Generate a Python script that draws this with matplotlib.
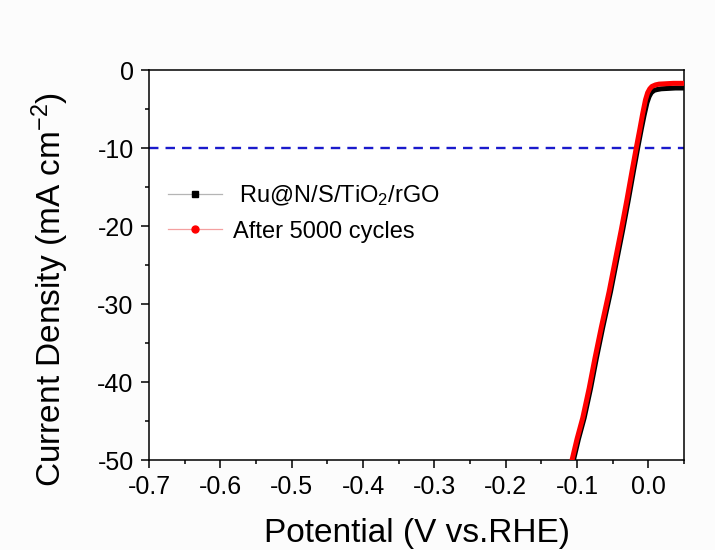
import numpy as np
import matplotlib
matplotlib.use('Agg')
import matplotlib.pyplot as plt
from matplotlib.lines import Line2D
from matplotlib.ticker import MultipleLocator, FormatStrFormatter

# LSV curves (potential in V vs RHE, current density in mA cm-2)
pot_initial = [-0.105, -0.098, -0.090, -0.081, -0.073, -0.064, -0.053, -0.044, -0.036, -0.028,
               -0.021, -0.015, -0.010, -0.006, -0.002, 0.001, 0.004, 0.008, 0.012, 0.018,
               0.028, 0.038, 0.050]
cur_initial = [-50.0, -47.3, -44.6, -40.8, -37.0, -33.0, -28.4, -24.2, -20.5, -16.6,
               -13.0, -10.0, -7.6, -5.8, -4.2, -3.4, -2.9, -2.6, -2.5, -2.4,
               -2.35, -2.3, -2.3]

pot_cycled = [-0.107, -0.100, -0.092, -0.083, -0.075, -0.066, -0.055, -0.046, -0.038, -0.030,
              -0.023, -0.017, -0.012, -0.008, -0.004, -0.001, 0.002, 0.005, 0.010, 0.015,
              0.025, 0.035, 0.050]
cur_cycled = [-50.0, -47.3, -44.6, -40.8, -37.0, -33.0, -28.4, -24.2, -20.5, -16.6,
              -13.0, -10.0, -7.6, -5.6, -3.8, -2.9, -2.4, -2.1, -1.9, -1.8,
              -1.75, -1.7, -1.7]

ref_current = -10
labels = [' Ru@N/S/TiO$_2$/rGO', 'After 5000 cycles']

plt.rcParams['font.family'] = ['Liberation Sans', 'DejaVu Sans']
plt.rcParams['axes.unicode_minus'] = False
plt.rcParams['mathtext.fontset'] = 'custom'
plt.rcParams['mathtext.rm'] = 'Liberation Sans'
plt.rcParams['mathtext.it'] = 'Liberation Sans'

fig = plt.figure(figsize=(7.15, 5.5), dpi=100, facecolor='#fcfcfc')
ax = fig.add_axes([0.2084, 0.1636, 0.7483, 0.709])
ax.set_facecolor('white')

ax.axhline(ref_current, color='#1a1acc', linewidth=1.7, dashes=(4, 3), zorder=1)
ax.plot(pot_initial, cur_initial, color='black', linewidth=3.6, solid_capstyle='round', zorder=2)
ax.plot(pot_cycled, cur_cycled, color='#ff0000', linewidth=3.6, solid_capstyle='round', zorder=3)

ax.set_xlim(-0.7, 0.05)
ax.set_ylim(-50, 0)
ax.xaxis.set_major_locator(MultipleLocator(0.1))
ax.xaxis.set_minor_locator(MultipleLocator(0.05))
ax.xaxis.set_major_formatter(FormatStrFormatter('%.1f'))
ax.yaxis.set_major_locator(MultipleLocator(10))
ax.yaxis.set_minor_locator(MultipleLocator(5))

for sp in ax.spines.values():
    sp.set_linewidth(1.1)
ax.tick_params(which='major', direction='out', length=6, width=1.1, labelsize=18, pad=5)
ax.tick_params(which='minor', direction='out', length=3, width=1.1)

ax.set_xlabel('Potential (V vs.RHE)', fontsize=24)
ax.set_ylabel('Current Density (mA cm$^{-2}$)', fontsize=24)
ax.xaxis.set_label_coords(0.5, -0.148)
ax.yaxis.set_label_coords(-0.145, 0.437)

# legend uses thin line + small symbol like the Origin original
handles = [Line2D([], [], color='#b5b5b5', linewidth=0.9, marker='s', markersize=4,
                  markerfacecolor='black', markeredgecolor='black'),
           Line2D([], [], color='#f4a0a0', linewidth=0.9, marker='o', markersize=5,
                  markerfacecolor='#ff0000', markeredgecolor='#ff0000')]
ax.legend(handles, labels, loc='upper left', bbox_to_anchor=(-0.005, 0.765), frameon=False,
          fontsize=17, handlelength=2.3, handletextpad=0.45, labelspacing=0.55)

fig.savefig('out.png', dpi=100, facecolor=fig.get_facecolor())
